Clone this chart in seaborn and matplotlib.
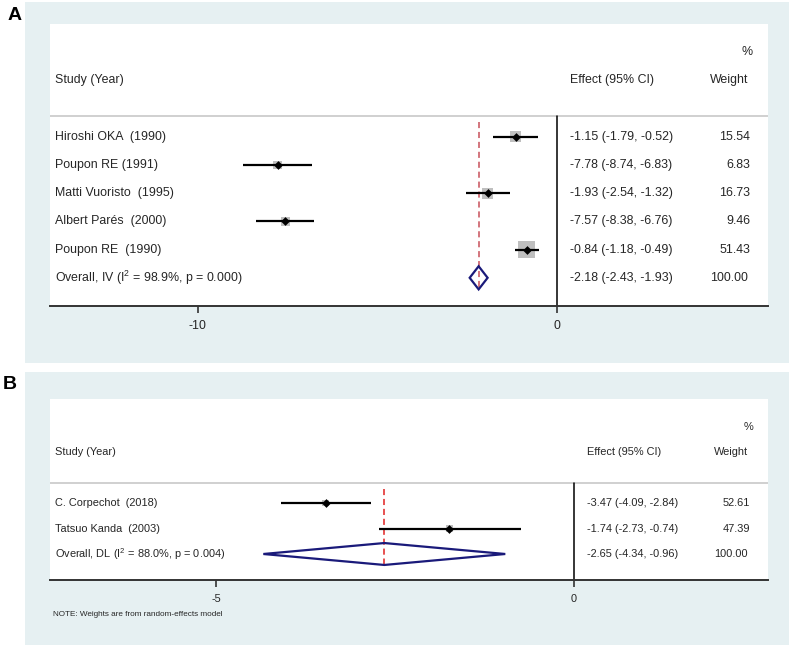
import matplotlib
matplotlib.use("Agg")
import matplotlib.pyplot as plt
from matplotlib.patches import Rectangle, Polygon
import matplotlib.transforms as mtransforms
import seaborn as sns
import pandas as pd

sns.set_theme(style="white")
plt.rcParams['font.family'] = ['Liberation Sans', 'DejaVu Sans']

# ---------------- data ----------------
studies_a = ["Hiroshi OKA  (1990)", "Poupon RE (1991)", "Matti Vuoristo  (1995)",
             "Albert Parés  (2000)", "Poupon RE  (1990)"]
effect_a = [-1.15, -7.78, -1.93, -7.57, -0.84]
lo_a = [-1.79, -8.74, -2.54, -8.38, -1.18]
hi_a = [-0.52, -6.83, -1.32, -6.76, -0.49]
weight_a = [15.54, 6.83, 16.73, 9.46, 51.43]
overall_a_label = "Overall, IV (I$^2$ = 98.9%, p = 0.000)"
overall_a = [-2.18, -2.43, -1.93]
ticks_a = [-10, 0]

studies_b = ["C. Corpechot  (2018)", "Tatsuo Kanda  (2003)"]
effect_b = [-3.47, -1.74]
lo_b = [-4.09, -2.73]
hi_b = [-2.84, -0.74]
weight_b = [52.61, 47.39]
overall_b_label = "Overall, DL (I$^2$ = 88.0%, p = 0.004)"
overall_b = [-2.65, -4.34, -0.96]
ticks_b = [-5, 0]
note_b = "NOTE: Weights are from random-effects model"

plt.rcParams['mathtext.fontset'] = 'custom'
plt.rcParams['mathtext.rm'] = 'Liberation Sans'
plt.rcParams['mathtext.it'] = 'Liberation Sans'

W, H = 789, 646
fig = plt.figure(figsize=(W / 100, H / 100), dpi=100)
fig.patch.set_facecolor("white")

PANEL = "#e6f0f2"


def px_rect(x0, y0, x1, y1):
    return [x0 / W, 1 - y1 / H, (x1 - x0) / W, (y1 - y0) / H]


# light blue panels
for (x0, y0, x1, y1) in [(25, 2, 789, 363), (25, 372, 789, 645)]:
    fig.patches.append(Rectangle((x0 / W, 1 - y1 / H), (x1 - x0) / W, (y1 - y0) / H,
                                 transform=fig.transFigure, facecolor=PANEL,
                                 edgecolor="none", zorder=-10))

fig.text(8 / W, 1 - 20 / H, "A", fontsize=14, fontweight="bold", color="black")
fig.text(3 / W, 1 - 389 / H, "B", fontsize=14, fontweight="bold", color="black")


def forest(ax, studies, eff, lo, hi, wt, ov_label, ov, ticks, xlim, ylim,
           box_sizes, red, diamond_h, fs, col_effect, dash_top, sep_y):
    n = len(studies)
    rows = list(range(n))
    ax.set_zorder(5)
    ax.set_facecolor("white")
    ax.set_xlim(*xlim)
    ax.set_ylim(*ylim)
    for s in ["top", "right", "left"]:
        ax.spines[s].set_visible(False)
    ax.spines["bottom"].set_color("#333333")
    ax.spines["bottom"].set_linewidth(1.4)

    trans = mtransforms.blended_transform_factory(ax.transAxes, ax.transData)
    # header separator
    ax.plot([0, 1], [sep_y, sep_y], transform=trans, color="#c8c8c8", lw=1.2,
            solid_capstyle="butt", clip_on=False, zorder=1)
    # zero line
    ax.plot([0, 0], [sep_y, ylim[0]], color="black", lw=1.1, zorder=2)
    # overall reference line
    ax.plot([ov[0], ov[0]], [dash_top, n + 0.45], color=red, lw=1.1,
            linestyle=(0, (4, 2.5)), zorder=2)

    df = pd.DataFrame({"effect": eff, "row": rows, "weight": wt})
    sns.scatterplot(data=df, x="effect", y="row", size="weight",
                    sizes=box_sizes, size_norm=(0, max(wt)),
                    marker="s", color="#bfbfbf", edgecolor="none", linewidth=0,
                    legend=False, ax=ax, zorder=3)
    ax.hlines(rows, lo, hi, color="black", lw=1.6, zorder=4)
    sns.scatterplot(data=df, x="effect", y="row", marker="D", color="black",
                    s=20, edgecolor="black", linewidth=0, legend=False, ax=ax, zorder=5)

    # overall diamond
    yo = n
    dia = Polygon([(ov[1], yo), (ov[0], yo - diamond_h), (ov[2], yo), (ov[0], yo + diamond_h)],
                  closed=True, facecolor="none", edgecolor="#1a1a7a", lw=1.6, zorder=6)
    ax.add_patch(dia)

    ax.set_xlim(*xlim)
    ax.set_ylim(*ylim)
    ax.set_yticks([])
    ax.set_xticks(ticks)
    ax.set_xticklabels([str(t) for t in ticks])
    ax.tick_params(axis="x", direction="out", length=5, width=1.2, color="#333333",
                   labelsize=fs, pad=5, bottom=True)
    ax.set_xlabel("")
    ax.set_ylabel("")

    # text columns
    ax.text(0.007, -2, "Study (Year)", transform=trans, fontsize=fs, va="center", ha="left")
    ax.text(col_effect, -2, "Effect (95% CI)", transform=trans, fontsize=fs, va="center", ha="left")
    ax.text(0.972, -2, "Weight", transform=trans, fontsize=fs, va="center", ha="right")
    ax.text(0.979, -3, "%", transform=trans, fontsize=fs, va="center", ha="right")
    labels = studies + [ov_label]
    effs = [f"{e:.2f} ({l:.2f}, {h:.2f})" for e, l, h in zip(eff, lo, hi)] + \
           [f"{ov[0]:.2f} ({ov[1]:.2f}, {ov[2]:.2f})"]
    wts = [f"{w:.2f}" for w in wt] + ["100.00"]
    for i, (lab, es, ws) in enumerate(zip(labels, effs, wts)):
        ax.text(0.007, i, lab, transform=trans, fontsize=fs, va="center", ha="left")
        ax.text(col_effect, i, es, transform=trans, fontsize=fs, va="center", ha="left")
        ax.text(0.975 if i < n else 0.972, i, ws, transform=trans, fontsize=fs,
                va="center", ha="right")


axA = fig.add_axes(px_rect(50, 24, 768, 306))
forest(axA, studies_a, effect_a, lo_a, hi_a, weight_a, overall_a_label, overall_a,
       ticks_a, xlim=(-14.12, 5.88), ylim=(6.0, -4.0), box_sizes=(17, 155),
       red="#c8505a", diamond_h=0.41, fs=8.9, col_effect=0.724, dash_top=-0.53,
       sep_y=-0.745)

axB = fig.add_axes(px_rect(50, 399, 768, 580))
forest(axB, studies_b, effect_b, lo_b, hi_b, weight_b, overall_b_label, overall_b,
       ticks_b, xlim=(-7.32, 2.71), ylim=(3.02, -4.08), box_sizes=(0, 24),
       red="#e02020", diamond_h=0.43, fs=7.9, col_effect=0.748, dash_top=-0.55,
       sep_y=-0.78)
axB.text(0.004, -0.19, note_b, transform=axB.transAxes, fontsize=5.9, va="center", ha="left")

fig.savefig("out.png", dpi=100, facecolor=fig.get_facecolor())
